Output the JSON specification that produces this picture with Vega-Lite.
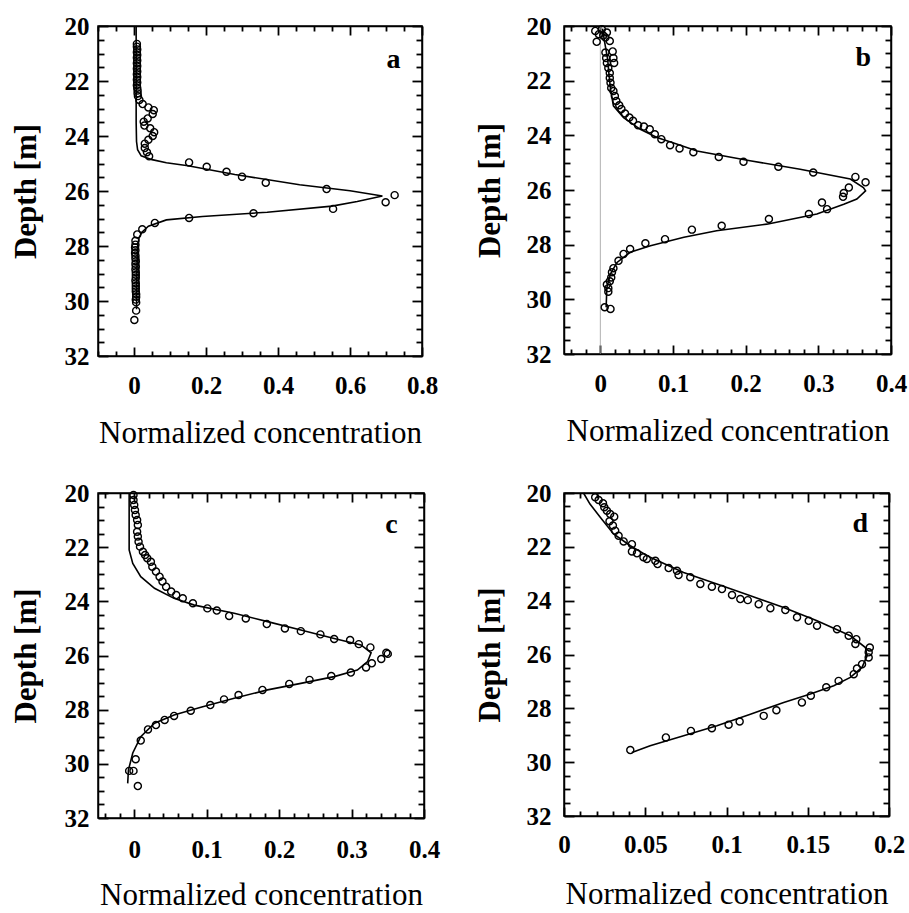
{
  "$schema": "https://vega.github.io/schema/vega-lite/v6.json",
  "padding": {"left": 9, "top": 13, "right": 5, "bottom": 2},
  "background": "white",
  "config": {
    "view": {"stroke": "black", "strokeWidth": 1.5},
    "axis": {
      "grid": false,
      "ticks": true,
      "zindex": 1,
      "domainColor": "black",
      "domainWidth": 1.5,
      "tickColor": "black",
      "tickOpacity": 1,
      "tickWidth": 1.8,
      "labelFont": "Liberation Serif",
      "labelFontSize": 25,
      "labelFontWeight": "bold",
      "labelColor": "black",
      "labelOverlap": false,
      "labelFlush": false,
      "titleFont": "Liberation Serif",
      "titleFontSize": 31,
      "titleColor": "black"
    }
  },
  "datasets": {
    "a_pts": [
      {"c":0.008,"d":20.65},{"c":0.008,"d":20.75},{"c":0.009,"d":20.85},{"c":0.008,"d":20.95},{"c":0.009,"d":21.05},{"c":0.008,"d":21.15},{"c":0.009,"d":21.25},{"c":0.008,"d":21.35},{"c":0.009,"d":21.45},{"c":0.008,"d":21.55},{"c":0.009,"d":21.65},{"c":0.008,"d":21.75},{"c":0.009,"d":21.85},{"c":0.008,"d":21.95},{"c":0.009,"d":22.05},{"c":0.008,"d":22.15},{"c":0.009,"d":22.25},{"c":0.01,"d":22.35},{"c":0.01,"d":22.45},{"c":0.011,"d":22.55},
      {"c":0.015,"d":22.69},{"c":0.024,"d":22.84},{"c":0.04,"d":22.96},{"c":0.055,"d":23.06},{"c":0.052,"d":23.2},{"c":0.038,"d":23.36},{"c":0.027,"d":23.48},{"c":0.029,"d":23.62},{"c":0.045,"d":23.72},{"c":0.056,"d":23.86},{"c":0.052,"d":24.0},{"c":0.04,"d":24.14},{"c":0.03,"d":24.28},{"c":0.03,"d":24.44},{"c":0.036,"d":24.59},{"c":0.042,"d":24.74},
      {"c":0.153,"d":24.96},{"c":0.202,"d":25.12},{"c":0.257,"d":25.3},{"c":0.3,"d":25.48},{"c":0.366,"d":25.7},{"c":0.535,"d":25.93},{"c":0.724,"d":26.15},{"c":0.699,"d":26.41},{"c":0.553,"d":26.65},{"c":0.332,"d":26.81},{"c":0.153,"d":26.98},{"c":0.058,"d":27.16},{"c":0.023,"d":27.39},{"c":0.009,"d":27.58},{"c":0.004,"d":27.81},
      {"c":0.004,"d":27.95},{"c":0.003,"d":28.05},{"c":0.004,"d":28.15},{"c":0.003,"d":28.25},{"c":0.004,"d":28.35},{"c":0.004,"d":28.45},{"c":0.005,"d":28.55},{"c":0.004,"d":28.65},{"c":0.005,"d":28.75},{"c":0.004,"d":28.85},{"c":0.005,"d":28.95},{"c":0.005,"d":29.05},{"c":0.005,"d":29.15},{"c":0.004,"d":29.25},{"c":0.005,"d":29.35},{"c":0.005,"d":29.45},{"c":0.005,"d":29.55},{"c":0.005,"d":29.65},{"c":0.006,"d":29.75},{"c":0.006,"d":29.85},{"c":0.005,"d":29.95},{"c":0.006,"d":30.05},{"c":0.006,"d":30.35},{"c":0.001,"d":30.69}
    ],
    "a_fit": [
      {"c":0.006,"d":20.0},{"c":0.006,"d":23.5},{"c":0.007,"d":24.2},{"c":0.01,"d":24.5},{"c":0.02,"d":24.72},{"c":0.05,"d":24.86},{"c":0.09,"d":24.97},{"c":0.15,"d":25.08},{"c":0.28,"d":25.4},{"c":0.46,"d":25.77},{"c":0.6,"d":25.99},{"c":0.69,"d":26.18},{"c":0.62,"d":26.38},{"c":0.55,"d":26.55},{"c":0.37,"d":26.77},{"c":0.19,"d":26.93},{"c":0.09,"d":27.05},{"c":0.04,"d":27.28},{"c":0.022,"d":27.5},{"c":0.014,"d":27.7},{"c":0.01,"d":28.0},{"c":0.008,"d":29.0},{"c":0.007,"d":30.3}
    ],
    "b_pts": [
      {"c":-0.007,"d":20.18},{"c":0.002,"d":20.12},{"c":0.009,"d":20.24},{"c":-0.005,"d":20.58},{"c":0.007,"d":20.42},{"c":0.013,"d":20.55},{"c":-0.002,"d":20.3},{"c":0.004,"d":20.35},
      {"c":0.007,"d":20.97},{"c":0.017,"d":20.93},{"c":0.008,"d":21.17},{"c":0.018,"d":21.17},{"c":0.009,"d":21.35},{"c":0.019,"d":21.35},{"c":0.011,"d":21.54},{"c":0.013,"d":21.72},{"c":0.013,"d":21.9},{"c":0.014,"d":22.08},{"c":0.015,"d":22.27},
      {"c":0.018,"d":22.38},{"c":0.02,"d":22.56},{"c":0.022,"d":22.74},{"c":0.026,"d":22.9},{"c":0.029,"d":23.04},{"c":0.034,"d":23.2},{"c":0.04,"d":23.35},{"c":0.045,"d":23.47},{"c":0.052,"d":23.63},{"c":0.06,"d":23.68},{"c":0.068,"d":23.78},{"c":0.075,"d":23.96},{"c":0.084,"d":24.14},{"c":0.096,"d":24.36},{"c":0.109,"d":24.48},{"c":0.128,"d":24.62},
      {"c":0.163,"d":24.79},{"c":0.197,"d":24.97},{"c":0.245,"d":25.15},{"c":0.293,"d":25.36},{"c":0.351,"d":25.52},{"c":0.365,"d":25.72},{"c":0.342,"d":25.91},{"c":0.335,"d":26.11},{"c":0.334,"d":26.25},{"c":0.305,"d":26.46},{"c":0.312,"d":26.7},{"c":0.287,"d":26.88},{"c":0.232,"d":27.06},{"c":0.167,"d":27.31},{"c":0.126,"d":27.45},{"c":0.089,"d":27.8},{"c":0.062,"d":27.95},{"c":0.041,"d":28.16},{"c":0.032,"d":28.34},{"c":0.025,"d":28.59},{"c":0.018,"d":28.86},{"c":0.016,"d":29.01},{"c":0.015,"d":29.2},{"c":0.013,"d":29.34},{"c":0.009,"d":29.46},{"c":0.011,"d":29.59},{"c":0.011,"d":29.72},{"c":0.006,"d":30.29},{"c":0.014,"d":30.35}
    ],
    "b_fit": [
      {"c":0.003,"d":20.1},{"c":0.006,"d":20.6},{"c":0.01,"d":21.2},{"c":0.012,"d":21.8},{"c":0.014,"d":22.3},{"c":0.018,"d":22.92},{"c":0.032,"d":23.35},{"c":0.055,"d":23.78},{"c":0.078,"d":24.08},{"c":0.105,"d":24.32},{"c":0.133,"d":24.57},{"c":0.206,"d":24.93},{"c":0.275,"d":25.24},{"c":0.344,"d":25.6},{"c":0.362,"d":25.91},{"c":0.365,"d":26.03},{"c":0.353,"d":26.33},{"c":0.335,"d":26.52},{"c":0.298,"d":26.88},{"c":0.229,"d":27.25},{"c":0.16,"d":27.49},{"c":0.115,"d":27.73},{"c":0.069,"d":28.04},{"c":0.041,"d":28.28},{"c":0.023,"d":28.65},{"c":0.014,"d":29.07},{"c":0.009,"d":29.56},{"c":0.008,"d":30.29}
    ],
    "c_pts": [
      {"c":-0.001,"d":20.07},{"c":-0.001,"d":20.26},{"c":0.0,"d":20.44},{"c":0.001,"d":20.63},{"c":0.002,"d":20.81},{"c":0.004,"d":21.0},{"c":0.005,"d":21.18},{"c":0.004,"d":21.43},{"c":0.005,"d":21.61},{"c":0.006,"d":21.8},{"c":0.008,"d":21.98},{"c":0.012,"d":22.17},{"c":0.015,"d":22.29},{"c":0.018,"d":22.41},{"c":0.023,"d":22.54},{"c":0.025,"d":22.72},{"c":0.03,"d":22.9},{"c":0.035,"d":23.09},{"c":0.039,"d":23.27},{"c":0.044,"d":23.46},{"c":0.051,"d":23.64},{"c":0.058,"d":23.77},{"c":0.067,"d":23.89},{"c":0.081,"d":24.07},
      {"c":0.101,"d":24.26},{"c":0.114,"d":24.34},{"c":0.131,"d":24.54},{"c":0.154,"d":24.63},{"c":0.183,"d":24.84},{"c":0.208,"d":25.0},{"c":0.23,"d":25.1},{"c":0.257,"d":25.22},{"c":0.276,"d":25.39},{"c":0.298,"d":25.43},{"c":0.31,"d":25.58},{"c":0.326,"d":25.7},{"c":0.348,"d":25.9},{"c":0.35,"d":25.94},{"c":0.341,"d":26.13},{"c":0.328,"d":26.29},{"c":0.32,"d":26.44},{"c":0.299,"d":26.63},{"c":0.272,"d":26.76},{"c":0.242,"d":26.9},{"c":0.214,"d":27.05},{"c":0.177,"d":27.27},{"c":0.144,"d":27.46},{"c":0.124,"d":27.62},{"c":0.105,"d":27.83},{"c":0.078,"d":28.04},{"c":0.055,"d":28.23},{"c":0.042,"d":28.38},{"c":0.03,"d":28.57},{"c":0.019,"d":28.73},{"c":0.009,"d":29.14},{"c":0.002,"d":29.83},{"c":-0.007,"d":30.26},{"c":-0.001,"d":30.26},{"c":0.005,"d":30.82}
    ],
    "c_fit": [
      {"c":-0.007,"d":20.0},{"c":-0.007,"d":22.1},{"c":-0.002,"d":22.6},{"c":0.009,"d":23.09},{"c":0.028,"d":23.52},{"c":0.055,"d":23.89},{"c":0.083,"d":24.14},{"c":0.138,"d":24.44},{"c":0.184,"d":24.75},{"c":0.23,"d":25.06},{"c":0.276,"d":25.37},{"c":0.313,"d":25.61},{"c":0.327,"d":25.9},{"c":0.322,"d":26.23},{"c":0.308,"d":26.54},{"c":0.276,"d":26.78},{"c":0.23,"d":27.03},{"c":0.184,"d":27.27},{"c":0.138,"d":27.58},{"c":0.092,"d":27.91},{"c":0.055,"d":28.2},{"c":0.028,"d":28.5},{"c":0.009,"d":29.0},{"c":-0.002,"d":29.6},{"c":-0.008,"d":30.23},{"c":-0.009,"d":30.72}
    ],
    "d_pts": [
      {"c":0.0192,"d":20.16},{"c":0.0213,"d":20.26},{"c":0.024,"d":20.38},{"c":0.0248,"d":20.53},{"c":0.0264,"d":20.66},{"c":0.0284,"d":20.78},{"c":0.0309,"d":20.88},{"c":0.028,"d":21.05},{"c":0.0301,"d":21.21},{"c":0.0315,"d":21.4},{"c":0.0336,"d":21.59},{"c":0.0367,"d":21.8},{"c":0.0418,"d":21.9},{"c":0.0418,"d":22.17},{"c":0.0449,"d":22.24},{"c":0.0489,"d":22.39},{"c":0.051,"d":22.45},{"c":0.0562,"d":22.52},{"c":0.0576,"d":22.64},{"c":0.0644,"d":22.79},{"c":0.0695,"d":22.89},{"c":0.0705,"d":23.05},{"c":0.0777,"d":23.13},{"c":0.0839,"d":23.38},{"c":0.091,"d":23.48},{"c":0.0972,"d":23.57},{"c":0.1034,"d":23.79},{"c":0.1085,"d":23.94},{"c":0.1131,"d":23.98},{"c":0.1198,"d":24.13},{"c":0.127,"d":24.28},{"c":0.1362,"d":24.35},{"c":0.1434,"d":24.62},{"c":0.1506,"d":24.75},{"c":0.1557,"d":24.93},{"c":0.168,"d":25.06},{"c":0.1752,"d":25.3},{"c":0.1799,"d":25.43},{"c":0.1793,"d":25.61},{"c":0.1882,"d":25.74},{"c":0.1875,"d":25.92},{"c":0.1875,"d":26.11},{"c":0.1834,"d":26.36},{"c":0.1803,"d":26.52},{"c":0.1783,"d":26.73},{"c":0.169,"d":26.98},{"c":0.1614,"d":27.22},{"c":0.1519,"d":27.53},{"c":0.1464,"d":27.78},{"c":0.1307,"d":28.07},{"c":0.1229,"d":28.28},{"c":0.1081,"d":28.49},{"c":0.1013,"d":28.61},{"c":0.091,"d":28.74},{"c":0.0781,"d":28.84},{"c":0.0627,"d":29.08},{"c":0.0408,"d":29.55}
    ],
    "d_fit": [
      {"c":0.012,"d":20.0},{"c":0.016,"d":20.41},{"c":0.0223,"d":20.9},{"c":0.0305,"d":21.52},{"c":0.0408,"d":21.96},{"c":0.053,"d":22.39},{"c":0.0736,"d":22.95},{"c":0.0941,"d":23.38},{"c":0.1147,"d":23.82},{"c":0.1352,"d":24.25},{"c":0.1557,"d":24.75},{"c":0.1762,"d":25.3},{"c":0.1855,"d":25.74},{"c":0.1865,"d":26.05},{"c":0.1834,"d":26.48},{"c":0.1762,"d":26.85},{"c":0.166,"d":27.16},{"c":0.1516,"d":27.47},{"c":0.1352,"d":27.78},{"c":0.1147,"d":28.22},{"c":0.0941,"d":28.65},{"c":0.0736,"d":29.02},{"c":0.053,"d":29.39},{"c":0.0418,"d":29.64}
    ]
  },
  "bounds": "flush",
  "columns": 2,
  "spacing": {"row": 137, "column": 140},
  "concat": [
    {
      "width": 324, "height": 330,
      "resolve": {"axis": {"x": "independent", "y": "independent"}},
      "layer": [
        {"data": {"name": "a_fit"}, "mark": {"type": "line", "color": "black", "strokeWidth": 1.6},
         "encoding": {
           "x": {"field": "c", "type": "quantitative", "scale": {"domain": [-0.1, 0.8], "nice": false, "zero": false},
             "axis": {"orient": "bottom", "ticks": true, "values": [-0.1,-0.05,0,0.05,0.1,0.15,0.2,0.25,0.3,0.35,0.4,0.45,0.5,0.55,0.6,0.65,0.7,0.75,0.8], "format": "~g",
               "labelExpr": "abs(datum.value*5-round(datum.value*5))<0.001 ? datum.label : ''",
               "tickSize": {"condition": {"test": "abs(datum.value*5-round(datum.value*5))<0.001", "value": -9}, "value": -5},
               "labelPadding": 26, "titlePadding": 16, "titleFontWeight": "normal", "title": "Normalized concentration"}},
           "y": {"field": "d", "type": "quantitative", "scale": {"domain": [20, 32], "reverse": true, "nice": false, "zero": false},
             "axis": {"orient": "left", "ticks": true, "values": [20,20.5,21,21.5,22,22.5,23,23.5,24,24.5,25,25.5,26,26.5,27,27.5,28,28.5,29,29.5,30,30.5,31,31.5,32], "format": "~g",
               "labelExpr": "datum.value % 2 == 0 ? datum.label : ''",
               "tickSize": {"condition": {"test": "datum.value % 2 == 0", "value": -10}, "value": -6},
               "labelPadding": 19, "titlePadding": 22, "titleFontWeight": "bold", "title": "Depth [m]"}},
           "order": {"value": null}
         }},
        {"data": {"name": "a_pts"}, "mark": {"type": "point", "shape": "circle", "filled": false, "color": "black", "size": 50, "strokeWidth": 1.4, "opacity": 1},
         "encoding": {
           "x": {"field": "c", "type": "quantitative", "scale": {"domain": [-0.1, 0.8], "nice": false, "zero": false},
             "axis": {"orient": "top", "ticks": true, "values": [-0.1,-0.05,0,0.05,0.1,0.15,0.2,0.25,0.3,0.35,0.4,0.45,0.5,0.55,0.6,0.65,0.7,0.75,0.8], "labels": false, "title": null,
               "tickSize": {"condition": {"test": "abs(datum.value*5-round(datum.value*5))<0.001", "value": -9}, "value": -5}}},
           "y": {"field": "d", "type": "quantitative", "scale": {"domain": [20, 32], "reverse": true, "nice": false, "zero": false},
             "axis": {"orient": "right", "ticks": true, "values": [20,20.5,21,21.5,22,22.5,23,23.5,24,24.5,25,25.5,26,26.5,27,27.5,28,28.5,29,29.5,30,30.5,31,31.5,32], "labels": false, "title": null,
               "tickSize": {"condition": {"test": "datum.value % 2 == 0", "value": -10}, "value": -6}}}
         }},
        {"data": {"values": [{"t": "a", "c": 0.721, "d": 21.54}]}, "mark": {"type": "text", "font": "Liberation Serif", "fontSize": 28, "fontWeight": "bold", "baseline": "alphabetic", "align": "center", "color": "black"},
         "encoding": {
           "x": {"field": "c", "type": "quantitative", "scale": {"domain": [-0.1, 0.8], "nice": false, "zero": false}, "axis": null},
           "y": {"field": "d", "type": "quantitative", "scale": {"domain": [20, 32], "reverse": true, "nice": false, "zero": false}, "axis": null},
           "text": {"field": "t"}
         }}
      ]
    },
    {
      "width": 327, "height": 328,
      "resolve": {"axis": {"x": "independent", "y": "independent"}},
      "layer": [
        {"data": {"values": [{"c": 0}]}, "mark": {"type": "rule", "color": "#9a9a9a", "strokeWidth": 0.8},
         "encoding": {"x": {"field": "c", "type": "quantitative", "scale": {"domain": [-0.05, 0.4], "nice": false, "zero": false}, "axis": null}}},
        {"data": {"name": "b_fit"}, "mark": {"type": "line", "color": "black", "strokeWidth": 1.6},
         "encoding": {
           "x": {"field": "c", "type": "quantitative", "scale": {"domain": [-0.05, 0.4], "nice": false, "zero": false},
             "axis": {"orient": "bottom", "ticks": true, "values": [-0.04,-0.02,0,0.02,0.04,0.06,0.08,0.1,0.12,0.14,0.16,0.18,0.2,0.22,0.24,0.26,0.28,0.3,0.32,0.34,0.36,0.38,0.4], "format": "~g",
               "labelExpr": "abs(datum.value*10-round(datum.value*10))<0.001 ? datum.label : ''",
               "tickSize": {"condition": {"test": "abs(datum.value*10-round(datum.value*10))<0.001", "value": -9}, "value": -5},
               "labelPadding": 26, "titlePadding": 16, "titleFontWeight": "normal", "title": "Normalized concentration"}},
           "y": {"field": "d", "type": "quantitative", "scale": {"domain": [20, 32], "reverse": true, "nice": false, "zero": false},
             "axis": {"orient": "left", "ticks": true, "values": [20,20.5,21,21.5,22,22.5,23,23.5,24,24.5,25,25.5,26,26.5,27,27.5,28,28.5,29,29.5,30,30.5,31,31.5,32], "format": "~g",
               "labelExpr": "datum.value % 2 == 0 ? datum.label : ''",
               "tickSize": {"condition": {"test": "datum.value % 2 == 0", "value": -10}, "value": -6},
               "labelPadding": 23, "titlePadding": 20, "titleFontWeight": "bold", "title": "Depth [m]"}},
           "order": {"value": null}
         }},
        {"data": {"name": "b_pts"}, "mark": {"type": "point", "shape": "circle", "filled": false, "color": "black", "size": 50, "strokeWidth": 1.4, "opacity": 1},
         "encoding": {
           "x": {"field": "c", "type": "quantitative", "scale": {"domain": [-0.05, 0.4], "nice": false, "zero": false},
             "axis": {"orient": "top", "ticks": true, "values": [-0.04,-0.02,0,0.02,0.04,0.06,0.08,0.1,0.12,0.14,0.16,0.18,0.2,0.22,0.24,0.26,0.28,0.3,0.32,0.34,0.36,0.38,0.4], "labels": false, "title": null,
               "tickSize": {"condition": {"test": "abs(datum.value*10-round(datum.value*10))<0.001", "value": -9}, "value": -5}}},
           "y": {"field": "d", "type": "quantitative", "scale": {"domain": [20, 32], "reverse": true, "nice": false, "zero": false},
             "axis": {"orient": "right", "ticks": true, "values": [20,20.5,21,21.5,22,22.5,23,23.5,24,24.5,25,25.5,26,26.5,27,27.5,28,28.5,29,29.5,30,30.5,31,31.5,32], "labels": false, "title": null,
               "tickSize": {"condition": {"test": "datum.value % 2 == 0", "value": -10}, "value": -6}}}
         }},
        {"data": {"values": [{"t": "b", "c": 0.362, "d": 21.46}]}, "mark": {"type": "text", "font": "Liberation Serif", "fontSize": 28, "fontWeight": "bold", "baseline": "alphabetic", "align": "center", "color": "black"},
         "encoding": {
           "x": {"field": "c", "type": "quantitative", "scale": {"domain": [-0.05, 0.4], "nice": false, "zero": false}, "axis": null},
           "y": {"field": "d", "type": "quantitative", "scale": {"domain": [20, 32], "reverse": true, "nice": false, "zero": false}, "axis": null},
           "text": {"field": "t"}
         }}
      ]
    },
    {
      "width": 326, "height": 325,
      "resolve": {"axis": {"x": "independent", "y": "independent"}},
      "layer": [
        {"data": {"name": "c_fit"}, "mark": {"type": "line", "color": "black", "strokeWidth": 1.6},
         "encoding": {
           "x": {"field": "c", "type": "quantitative", "scale": {"domain": [-0.05, 0.4], "nice": false, "zero": false},
             "axis": {"orient": "bottom", "ticks": true, "values": [-0.04,-0.02,0,0.02,0.04,0.06,0.08,0.1,0.12,0.14,0.16,0.18,0.2,0.22,0.24,0.26,0.28,0.3,0.32,0.34,0.36,0.38,0.4], "format": "~g",
               "labelExpr": "abs(datum.value*10-round(datum.value*10))<0.001 ? datum.label : ''",
               "tickSize": {"condition": {"test": "abs(datum.value*10-round(datum.value*10))<0.001", "value": -9}, "value": -5},
               "labelPadding": 28, "titlePadding": 14, "titleFontWeight": "normal", "title": "Normalized concentration"}},
           "y": {"field": "d", "type": "quantitative", "scale": {"domain": [20, 32], "reverse": true, "nice": false, "zero": false},
             "axis": {"orient": "left", "ticks": true, "values": [20,20.5,21,21.5,22,22.5,23,23.5,24,24.5,25,25.5,26,26.5,27,27.5,28,28.5,29,29.5,30,30.5,31,31.5,32], "format": "~g",
               "labelExpr": "datum.value % 2 == 0 ? datum.label : ''",
               "tickSize": {"condition": {"test": "datum.value % 2 == 0", "value": -10}, "value": -6},
               "labelPadding": 19, "titlePadding": 22, "titleFontWeight": "bold", "title": "Depth [m]"}},
           "order": {"value": null}
         }},
        {"data": {"name": "c_pts"}, "mark": {"type": "point", "shape": "circle", "filled": false, "color": "black", "size": 50, "strokeWidth": 1.4, "opacity": 1},
         "encoding": {
           "x": {"field": "c", "type": "quantitative", "scale": {"domain": [-0.05, 0.4], "nice": false, "zero": false},
             "axis": {"orient": "top", "ticks": true, "values": [-0.04,-0.02,0,0.02,0.04,0.06,0.08,0.1,0.12,0.14,0.16,0.18,0.2,0.22,0.24,0.26,0.28,0.3,0.32,0.34,0.36,0.38,0.4], "labels": false, "title": null,
               "tickSize": {"condition": {"test": "abs(datum.value*10-round(datum.value*10))<0.001", "value": -9}, "value": -5}}},
           "y": {"field": "d", "type": "quantitative", "scale": {"domain": [20, 32], "reverse": true, "nice": false, "zero": false},
             "axis": {"orient": "right", "ticks": true, "values": [20,20.5,21,21.5,22,22.5,23,23.5,24,24.5,25,25.5,26,26.5,27,27.5,28,28.5,29,29.5,30,30.5,31,31.5,32], "labels": false, "title": null,
               "tickSize": {"condition": {"test": "datum.value % 2 == 0", "value": -10}, "value": -6}}}
         }},
        {"data": {"values": [{"t": "c", "c": 0.355, "d": 21.49}]}, "mark": {"type": "text", "font": "Liberation Serif", "fontSize": 28, "fontWeight": "bold", "baseline": "alphabetic", "align": "center", "color": "black"},
         "encoding": {
           "x": {"field": "c", "type": "quantitative", "scale": {"domain": [-0.05, 0.4], "nice": false, "zero": false}, "axis": null},
           "y": {"field": "d", "type": "quantitative", "scale": {"domain": [20, 32], "reverse": true, "nice": false, "zero": false}, "axis": null},
           "text": {"field": "t"}
         }}
      ]
    },
    {
      "width": 325, "height": 323,
      "resolve": {"axis": {"x": "independent", "y": "independent"}},
      "layer": [
        {"data": {"name": "d_fit"}, "mark": {"type": "line", "color": "black", "strokeWidth": 1.6},
         "encoding": {
           "x": {"field": "c", "type": "quantitative", "scale": {"domain": [0, 0.2], "nice": false, "zero": false},
             "axis": {"orient": "bottom", "ticks": true, "values": [0,0.01,0.02,0.03,0.04,0.05,0.06,0.07,0.08,0.09,0.1,0.11,0.12,0.13,0.14,0.15,0.16,0.17,0.18,0.19,0.2], "format": "~g",
               "labelExpr": "abs(datum.value*20-round(datum.value*20))<0.001 ? datum.label : ''",
               "tickSize": {"condition": {"test": "abs(datum.value*20-round(datum.value*20))<0.001", "value": -9}, "value": -5},
               "labelPadding": 25, "titlePadding": 18, "titleFontWeight": "normal", "title": "Normalized concentration"}},
           "y": {"field": "d", "type": "quantitative", "scale": {"domain": [20, 32], "reverse": true, "nice": false, "zero": false},
             "axis": {"orient": "left", "ticks": true, "values": [20,20.5,21,21.5,22,22.5,23,23.5,24,24.5,25,25.5,26,26.5,27,27.5,28,28.5,29,29.5,30,30.5,31,31.5,32], "format": "~g",
               "labelExpr": "datum.value % 2 == 0 ? datum.label : ''",
               "tickSize": {"condition": {"test": "datum.value % 2 == 0", "value": -10}, "value": -6},
               "labelPadding": 23, "titlePadding": 20, "titleFontWeight": "bold", "title": "Depth [m]"}},
           "order": {"value": null}
         }},
        {"data": {"name": "d_pts"}, "mark": {"type": "point", "shape": "circle", "filled": false, "color": "black", "size": 50, "strokeWidth": 1.4, "opacity": 1},
         "encoding": {
           "x": {"field": "c", "type": "quantitative", "scale": {"domain": [0, 0.2], "nice": false, "zero": false},
             "axis": {"orient": "top", "ticks": true, "values": [0,0.01,0.02,0.03,0.04,0.05,0.06,0.07,0.08,0.09,0.1,0.11,0.12,0.13,0.14,0.15,0.16,0.17,0.18,0.19,0.2], "labels": false, "title": null,
               "tickSize": {"condition": {"test": "abs(datum.value*20-round(datum.value*20))<0.001", "value": -9}, "value": -5}}},
           "y": {"field": "d", "type": "quantitative", "scale": {"domain": [20, 32], "reverse": true, "nice": false, "zero": false},
             "axis": {"orient": "right", "ticks": true, "values": [20,20.5,21,21.5,22,22.5,23,23.5,24,24.5,25,25.5,26,26.5,27,27.5,28,28.5,29,29.5,30,30.5,31,31.5,32], "labels": false, "title": null,
               "tickSize": {"condition": {"test": "datum.value % 2 == 0", "value": -10}, "value": -6}}}
         }},
        {"data": {"values": [{"t": "d", "c": 0.1824, "d": 21.46}]}, "mark": {"type": "text", "font": "Liberation Serif", "fontSize": 28, "fontWeight": "bold", "baseline": "alphabetic", "align": "center", "color": "black"},
         "encoding": {
           "x": {"field": "c", "type": "quantitative", "scale": {"domain": [0, 0.2], "nice": false, "zero": false}, "axis": null},
           "y": {"field": "d", "type": "quantitative", "scale": {"domain": [20, 32], "reverse": true, "nice": false, "zero": false}, "axis": null},
           "text": {"field": "t"}
         }}
      ]
    }
  ]
}
